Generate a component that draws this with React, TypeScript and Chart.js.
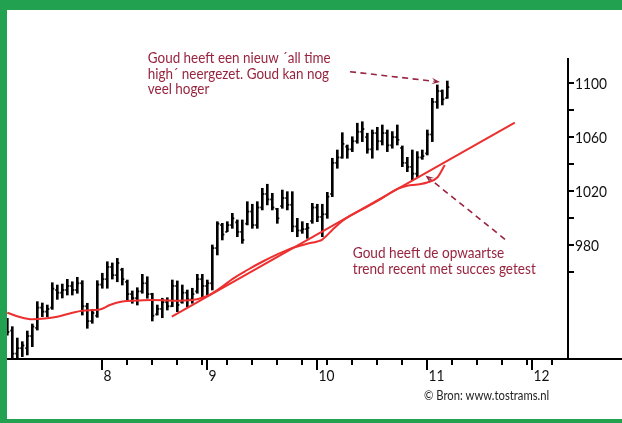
import { useEffect, useRef } from 'react';
import { Chart, registerables } from 'chart.js';

Chart.register(...registerables);

// ---- data (gold, daily OHLC, trading-day index 0 = first bar) ----
const highs = [
  926.1, 919.9, 911.5, 908.8, 916.7, 921.9, 938.4, 937.4, 935.9, 952.4,
  950.7, 951.4, 954.9, 953.1, 956.4, 953.9, 937.2, 932.7, 953.9, 959.4,
  967.9, 967.0, 970.4, 963.1, 954.4, 946.3, 948.7, 958.6, 956.8, 944.6,
  935.9, 940.9, 941.3, 954.4, 953.7, 950.7, 947.0, 948.3, 958.6, 958.6,
  954.4, 980.3, 997.5, 996.3, 997.5, 1003.7, 998.8, 998.8, 1012.3, 1010.4,
  1012.3, 1022.2, 1025.2, 1018.5, 1007.4, 1020.9, 1019.7, 1019.7, 1000.0, 997.5,
  996.3, 1011.1, 1010.4, 1010.4, 1019.2, 1044.4, 1050.5, 1063.3, 1054.2, 1060.3,
  1070.3, 1071.4, 1062.9, 1065.3, 1067.3, 1069.0, 1065.3, 1064.1, 1069.0, 1053.5,
  1045.1, 1050.5, 1049.3, 1050.5, 1065.3, 1088.7, 1098.6, 1094.9, 1101.5,
];
const lows = [
  913.7, 896.5, 896.4, 897.7, 899.0, 905.1, 917.4, 927.3, 927.3, 932.7,
  940.1, 941.1, 943.3, 943.3, 944.6, 928.5, 918.7, 922.4, 926.8, 948.3,
  948.3, 955.1, 953.1, 950.7, 939.6, 937.2, 935.9, 944.6, 940.9, 924.1,
  928.5, 926.5, 932.2, 934.7, 931.0, 937.2, 934.7, 937.2, 944.6, 942.1,
  943.3, 947.0, 972.9, 984.0, 990.1, 992.6, 986.4, 981.5, 995.1, 992.6,
  992.6, 1006.2, 1009.9, 1006.2, 996.3, 1007.4, 1006.2, 990.1, 986.4, 988.9,
  985.2, 996.3, 997.5, 986.4, 1000.0, 1016.0, 1037.0, 1044.4, 1044.4, 1049.3,
  1055.5, 1056.7, 1048.1, 1044.4, 1050.5, 1054.2, 1049.3, 1051.8, 1054.2, 1038.2,
  1034.5, 1028.3, 1030.8, 1043.6, 1046.8, 1056.7, 1081.3, 1083.8, 1088.7,
];
const opens = [
  925, 917, 900, 904, 904, 913, 919, 934, 931, 934,
  947, 945, 947, 950, 947, 952, 935, 924, 928, 951,
  955, 964, 958, 962, 953, 944, 941, 946, 952, 944,
  929, 933, 938, 935, 950, 938, 945, 940, 946, 955,
  950, 952, 978, 995, 990, 995, 997, 990, 996, 1005,
  995, 1008, 1018, 1014, 1007, 1009, 1015, 1010, 994, 991,
  992, 998, 1008, 1001, 1003, 1018, 1041, 1045, 1053, 1051,
  1057, 1064, 1060, 1051, 1063, 1057, 1063, 1054, 1060, 1052,
  1041, 1038, 1033, 1045, 1048, 1062, 1086, 1094, 1089,
];
const closes = [
  916, 900, 904, 906, 913, 920, 934, 931, 933, 948,
  945, 947, 950, 947, 952, 935, 924, 930, 951, 955,
  964, 958, 967, 955, 944, 941, 946, 952, 944, 928,
  933, 938, 935, 950, 936, 945, 940, 944, 955, 950,
  952, 978, 996, 988, 995, 1000, 990, 984, 1005, 995,
  1008, 1018, 1014, 1008, 1000, 1015, 1010, 994, 991, 992,
  993, 1008, 1001, 1003, 1016, 1041, 1045, 1055, 1051, 1057,
  1064, 1066, 1051, 1063, 1057, 1063, 1054, 1060, 1058, 1041,
  1038, 1033, 1045, 1046, 1062, 1086, 1094, 1088, 1097,
];

// moving average
const maDays = [
  0, 2.5, 5, 7.5, 10, 12.5, 15, 18.5, 20.5, 23, 26, 29, 33, 37, 39, 41, 43, 45,
  48, 51, 54, 57, 60, 62, 63, 65, 67, 69, 72, 75, 78, 80, 82, 84, 86, 87.5,
];
const maValues = [
  930.2, 927.0, 925.3, 925.9, 927.3, 929.6, 931.7, 932.6, 935.9, 938.5, 939.2,
  939.6, 939.1, 939.6, 941.3, 944.6, 949.5, 955.1, 961.8, 967.9, 973.3, 978.1,
  981.2, 982.9, 984.3, 991.4, 998.0, 1002.8, 1008.7, 1015.0, 1021.7, 1024.1,
  1025.0, 1026.5, 1030.2, 1039.4,
];

// trend line
const trendDays = [32.9, 101.5];
const trendValues = [927.4, 1070.8];

// axes
const monthTickDays = [19, 40, 62, 84, 105];
const monthLabels = ['8', '9', '10', '11', '12'];
const weekTickDays = [24, 29, 34, 39, 44, 49, 54, 59, 64, 69, 74, 79, 89, 94, 99, 104, 109];
const yTickValues = [960, 980, 1000, 1020, 1040, 1060, 1080, 1100];
const yLabelValues = [980, 1020, 1060, 1100];
const Y_MIN = 896;
const Y_MAX = 1154;
const X_MIN = -0.06;
const X_MAX = 112.14;
const Y_AXIS_TOP = 1118.5;

// annotations (anchored in data space)
const note1Lines = ['Goud heeft een nieuw \u00b4all time', 'high\u00b4 neergezet. Goud kan nog', 'veel hoger'];
const note2Lines = ['Goud heeft de opwaartse', 'trend recent met succes getest'];
const arrow1 = { from: [68.54, 1108.4], to: [86.54, 1100.8] };
const arrow2 = { from: [99.54, 984.5], to: [83.64, 1031.7] };
const sourceText = '\u00a9 Bron: www.tostrams.nl';

const GREEN = '#22a150';
const MAROON = '#98243f';
const RED = '#ec2f2f';
const FONT = 'Lato, "Open Sans", sans-serif';

function condensedText(ctx: CanvasRenderingContext2D, text: string, x: number, y: number, font: string, color: string, sx: number) {
  ctx.save();
  ctx.font = font;
  ctx.fillStyle = color;
  ctx.textBaseline = 'alphabetic';
  ctx.textAlign = 'left';
  ctx.translate(x, y);
  ctx.scale(sx, 1);
  ctx.fillText(text, 0, 0);
  ctx.restore();
}

function dashedArrow(ctx: CanvasRenderingContext2D, x1: number, y1: number, x2: number, y2: number) {
  const ang = Math.atan2(y2 - y1, x2 - x1);
  const head = 9;
  ctx.save();
  ctx.strokeStyle = MAROON;
  ctx.fillStyle = MAROON;
  ctx.lineWidth = 1.6;
  ctx.setLineDash([6, 4.5]);
  ctx.beginPath();
  ctx.moveTo(x1, y1);
  ctx.lineTo(x2 - Math.cos(ang) * head * 0.6, y2 - Math.sin(ang) * head * 0.6);
  ctx.stroke();
  ctx.setLineDash([]);
  ctx.beginPath();
  ctx.moveTo(x2, y2);
  ctx.lineTo(x2 - Math.cos(ang - 0.38) * head, y2 - Math.sin(ang - 0.38) * head);
  ctx.lineTo(x2 - Math.cos(ang) * head * 0.55, y2 - Math.sin(ang) * head * 0.55);
  ctx.lineTo(x2 - Math.cos(ang + 0.38) * head, y2 - Math.sin(ang + 0.38) * head);
  ctx.closePath();
  ctx.fill();
  ctx.restore();
}

const decorPlugin = {
  id: 'decor',
  afterDraw(chart: any) {
    const ctx: CanvasRenderingContext2D = chart.ctx;
    const xs = chart.scales.x;
    const ys = chart.scales.y;
    const area = chart.chartArea;
    const yb = area.bottom;
    const xa = area.right;
    ctx.save();
    ctx.strokeStyle = '#000';
    ctx.lineWidth = 2;
    ctx.beginPath();
    ctx.moveTo(area.left, yb);
    ctx.lineTo(chart.width, yb);
    ctx.stroke();
    ctx.beginPath();
    ctx.moveTo(xa, ys.getPixelForValue(Y_AXIS_TOP));
    ctx.lineTo(xa, yb);
    ctx.stroke();
    // x ticks
    weekTickDays.forEach((d) => {
      const px = Math.round(xs.getPixelForValue(d));
      ctx.beginPath();
      ctx.moveTo(px, yb);
      ctx.lineTo(px, yb + 6);
      ctx.stroke();
    });
    monthTickDays.forEach((d, k) => {
      const px = Math.round(xs.getPixelForValue(d));
      ctx.beginPath();
      ctx.moveTo(px, yb);
      ctx.lineTo(px, yb + 11);
      ctx.stroke();
      condensedText(ctx, monthLabels[k], px + 1.5, yb + 21.5, `16px ${FONT}`, '#111', 0.86);
    });
    // y ticks
    yTickValues.forEach((v) => {
      const py = Math.round(ys.getPixelForValue(v));
      ctx.beginPath();
      ctx.moveTo(xa, py);
      ctx.lineTo(xa + 6, py);
      ctx.stroke();
      if (yLabelValues.includes(v)) {
        condensedText(ctx, String(v), xa + 7, py + 5.7, `16px ${FONT}`, '#111', 0.86);
      }
    });
    // source
    condensedText(ctx, sourceText, 424, 400, `12.5px ${FONT}`, '#222', 0.9);
    // notes
    const n1x = xs.getPixelForValue(28.1);
    const n1y = ys.getPixelForValue(1114.8);
    note1Lines.forEach((t, k) => condensedText(ctx, t, n1x, n1y + k * 15.7, `16px ${FONT}`, MAROON, 0.84));
    const n2x = xs.getPixelForValue(69.1);
    const n2y = ys.getPixelForValue(970.7);
    note2Lines.forEach((t, k) => condensedText(ctx, t, n2x, n2y + k * 16.5, `16px ${FONT}`, MAROON, 0.85));
    dashedArrow(ctx, xs.getPixelForValue(arrow1.from[0]), ys.getPixelForValue(arrow1.from[1]), xs.getPixelForValue(arrow1.to[0]), ys.getPixelForValue(arrow1.to[1]));
    dashedArrow(ctx, xs.getPixelForValue(arrow2.from[0]), ys.getPixelForValue(arrow2.from[1]), xs.getPixelForValue(arrow2.to[0]), ys.getPixelForValue(arrow2.to[1]));
    ctx.restore();
  },
};

export default function App() {
  const canvasRef = useRef<HTMLCanvasElement | null>(null);

  useEffect(() => {
    const canvas = canvasRef.current;
    if (!canvas) return;
    const days = highs.map((_, i) => i);
    const chart = new Chart(canvas, {
      type: 'bar',
      data: {
        datasets: [
          {
            type: 'line',
            data: maDays.map((d, k) => ({ x: d, y: maValues[k] })),
            borderColor: RED,
            borderWidth: 2,
            pointRadius: 0,
            cubicInterpolationMode: 'monotone',
            order: 0,
          } as any,
          {
            type: 'line',
            data: trendDays.map((d, k) => ({ x: d, y: trendValues[k] })),
            borderColor: RED,
            borderWidth: 2,
            pointRadius: 0,
            order: 0,
          } as any,
          {
            type: 'bar',
            data: days.map((d) => ({ x: d, y: [lows[d], highs[d]] })),
            backgroundColor: '#000',
            borderWidth: 0,
            barThickness: 2,
            order: 3,
          } as any,
          {
            type: 'line',
            data: days.map((d) => ({ x: d - 0.2, y: opens[d] })),
            showLine: false,
            pointStyle: 'line',
            pointRadius: 1,
            pointBorderWidth: 1.8,
            pointBorderColor: '#000',
            order: 2,
          } as any,
          {
            type: 'line',
            data: days.map((d) => ({ x: d + 0.2, y: closes[d] })),
            showLine: false,
            pointStyle: 'line',
            pointRadius: 1,
            pointBorderWidth: 1.8,
            pointBorderColor: '#000',
            order: 2,
          } as any,
        ],
      },
      options: {
        animation: false,
        responsive: false,
        maintainAspectRatio: false,
        devicePixelRatio: 1,
        layout: { padding: { left: 7, right: 54, top: 10, bottom: 64 } },
        plugins: { legend: { display: false }, tooltip: { enabled: false } },
        events: [],
        scales: {
          x: { type: 'linear', min: X_MIN, max: X_MAX, display: false, offset: false, grid: { offset: false } },
          y: { type: 'linear', min: Y_MIN, max: Y_MAX, display: false },
        },
      },
      plugins: [decorPlugin],
    });
    return () => chart.destroy();
  }, []);

  return (
    <div style={{ position: 'absolute', left: 0, top: 0, width: 622, height: 423, background: '#fff', overflow: 'hidden' }}>
      <canvas ref={canvasRef} width={622} height={423} style={{ position: 'absolute', left: 0, top: 0, width: 622, height: 423 }} />
      <div style={{ position: 'absolute', left: 0, top: 0, width: 622, height: 10, background: GREEN }} />
      <div style={{ position: 'absolute', left: 0, top: 0, width: 7, height: 423, background: GREEN }} />
      <div style={{ position: 'absolute', left: 0, top: 419, width: 622, height: 4, background: GREEN }} />
    </div>
  );
}
